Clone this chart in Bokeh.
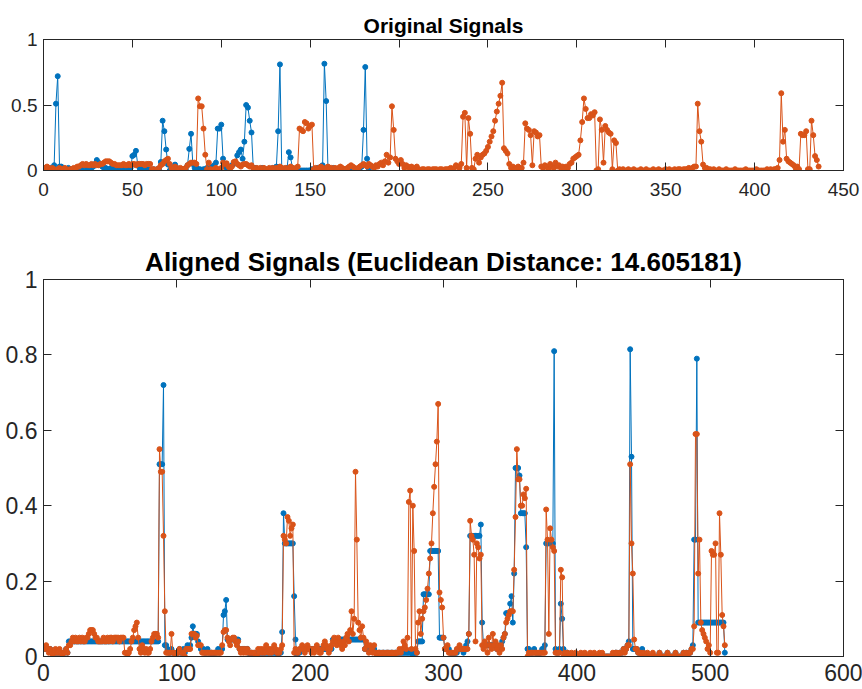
from bokeh.plotting import figure
from bokeh.layouts import column
from bokeh.models import LinearAxis, FixedTicker, NumeralTickFormatter, Range1d
from bokeh.embed import file_html
from bokeh.resources import INLINE

# ---------------- data ----------------
blue_signal = [
    0.02, 0.01, 0.01, 0.02, 0.01, 0.04, 0.51, 0.72, 0.03, 0.03,
    0.02, 0.01, 0.01, 0.02, 0.01, 0.01, 0.00, 0.01, 0.01, 0.02,
    0.01, 0.01, 0.02, 0.01, 0.02, 0.03, 0.02, 0.03, 0.05, 0.08,
    0.06, 0.04, 0.03, 0.02, 0.02, 0.01, 0.01, 0.02, 0.01, 0.01,
    0.01, 0.00, 0.01, 0.01, 0.01, 0.02, 0.01, 0.02, 0.02, 0.11,
    0.12, 0.15, 0.045, 0.02, 0.01, 0.00, 0.01, 0.00, 0.01, 0.00,
    0.00, 0.01, 0.00, 0.01, 0.01, 0.065, 0.38, 0.30, 0.16, 0.045,
    0.00, 0.01, 0.02, 0.045, 0.02, 0.01, 0.00, 0.01, 0.01, 0.01,
    0.04, 0.165, 0.28, 0.05, 0.02, 0.02, 0.01, 0.01, 0.00, 0.01,
    0.01, 0.02, 0.01, 0.02, 0.03, 0.04, 0.06, 0.32, 0.32, 0.35,
    0.09, 0.03, 0.02, 0.02, 0.03, 0.04, 0.05, 0.06, 0.115, 0.14,
    0.16, 0.09, 0.22, 0.50, 0.48, 0.38, 0.29, 0.02, 0.02, 0.01,
    0.01, 0.01, 0.02, 0.01, 0.01, 0.00, 0.01, 0.01, 0.02, 0.02,
    0.03, 0.30, 0.81, 0.02, 0.01, 0.01, 0.02, 0.14, 0.10, 0.02,
    0.01, 0.00, 0.00, 0.00, 0.00, 0.00, 0.00, 0.00, 0.00, 0.00,
    0.01, 0.00, 0.01, 0.02, 0.02, 0.03, 0.04, 0.815, 0.53, 0.02,
    0.01, 0.01, 0.02, 0.01, 0.00, 0.01, 0.00, 0.00, 0.01, 0.00,
    0.01, 0.00, 0.01, 0.00, 0.01, 0.00, 0.01, 0.02, 0.03, 0.31,
    0.79, 0.09, 0.01,
]

orange_signal = [
    0.02, 0.03, 0.02, 0.01, 0.02, 0.01, 0.00, 0.01, 0.02, 0.01,
    0.01, 0.02, 0.01, 0.00, 0.01, 0.01, 0.02, 0.01, 0.03, 0.03,
    0.04, 0.05, 0.04, 0.05, 0.04, 0.04, 0.05, 0.04, 0.05, 0.04,
    0.04, 0.05, 0.05, 0.06, 0.07, 0.07, 0.07, 0.06, 0.05, 0.05,
    0.04, 0.04, 0.04, 0.04, 0.05, 0.04, 0.04, 0.05, 0.04, 0.05,
    0.05, 0.04, 0.05, 0.05, 0.05, 0.05, 0.04, 0.05, 0.05, 0.05,
    0.01, 0.01, 0.00, 0.01, 0.02, 0.04, 0.05, 0.07, 0.08, 0.09,
    0.05, 0.02, 0.01, 0.03, 0.02, 0.01, 0.02, 0.01, 0.01, 0.02,
    0.04, 0.05, 0.06, 0.06, 0.06, 0.05, 0.55, 0.49, 0.49, 0.32,
    0.12, 0.01, 0.06, 0.01, 0.00, 0.01, 0.02, 0.01, 0.00, 0.02,
    0.06, 0.05, 0.055, 0.03, 0.01, 0.03, 0.065, 0.07, 0.05, 0.04,
    0.03, 0.045, 0.05, 0.05, 0.04, 0.03, 0.04, 0.02, 0.01, 0.02,
    0.01, 0.02, 0.01, 0.02, 0.01, 0.00, 0.02, 0.01, 0.02, 0.01,
    0.02, 0.01, 0.03, 0.02, 0.01, 0.02, 0.01, 0.02, 0.03, 0.02,
    0.01, 0.02, 0.03, 0.32, 0.31, 0.30, 0.37, 0.36, 0.32, 0.34,
    0.35, 0.01, 0.02, 0.01, 0.02, 0.03, 0.02, 0.01, 0.02, 0.03,
    0.02, 0.02, 0.01, 0.02, 0.01, 0.02, 0.03, 0.02, 0.01, 0.01,
    0.02, 0.03, 0.04, 0.03, 0.02, 0.01, 0.02, 0.03, 0.04, 0.05,
    0.04, 0.03, 0.05, 0.04, 0.03, 0.02, 0.04, 0.03, 0.05, 0.06,
    0.04, 0.07, 0.12, 0.06, 0.10, 0.49, 0.31, 0.09, 0.07, 0.05,
    0.08, 0.05, 0.02, 0.04, 0.03, 0.01, 0.03, 0.02, 0.01, 0.03,
    0.01, 0.00, 0.01, 0.01, 0.00, 0.01, 0.01, 0.00, 0.01, 0.01,
    0.01, 0.00, 0.01, 0.01, 0.00, 0.01, 0.01, 0.01, 0.02, 0.01,
    0.02, 0.04, 0.03, 0.02, 0.05, 0.41, 0.44, 0.02, 0.40, 0.28,
    0.02, 0.01, 0.09, 0.12, 0.06, 0.10, 0.12, 0.13, 0.15, 0.18,
    0.22, 0.26, 0.30, 0.38, 0.45, 0.51, 0.57, 0.67, 0.17, 0.15,
    0.13, 0.05, 0.02, 0.03, 0.01, 0.02, 0.03, 0.02, 0.02, 0.06,
    0.36, 0.32, 0.31, 0.27, 0.04, 0.30, 0.29, 0.26, 0.27, 0.03,
    0.02, 0.04, 0.03, 0.01, 0.05, 0.03, 0.02, 0.06, 0.03, 0.04,
    0.02, 0.03, 0.01, 0.03, 0.02, 0.05, 0.06, 0.09, 0.10, 0.11,
    0.12, 0.23, 0.37, 0.55, 0.47, 0.40, 0.40, 0.43, 0.42, 0.445,
    0.00, 0.01, 0.39, 0.31, 0.06, 0.34, 0.31, 0.29, 0.28, 0.01,
    0.23, 0.21, 0.00, 0.01, 0.00, 0.01, 0.00, 0.00, 0.01, 0.00,
    0.00, 0.01, 0.00, 0.00, 0.00, 0.01, 0.00, 0.00, 0.01, 0.00,
    0.00, 0.00, 0.01, 0.00, 0.00, 0.01, 0.00, 0.00, 0.00, 0.01,
    0.00, 0.01, 0.00, 0.00, 0.01, 0.00, 0.01, 0.01, 0.00, 0.01,
    0.01, 0.01, 0.02, 0.01, 0.02, 0.03, 0.03, 0.51, 0.30, 0.22,
    0.045, 0.02, 0.02, 0.01, 0.01, 0.00, 0.01, 0.00, 0.00, 0.01,
    0.00, 0.00, 0.00, 0.01, 0.00, 0.00, 0.00, 0.00, 0.01, 0.00,
    0.00, 0.00, 0.00, 0.00, 0.01, 0.00, 0.00, 0.00, 0.00, 0.00,
    0.01, 0.00, 0.00, 0.00, 0.00, 0.00, 0.01, 0.00, 0.01, 0.00,
    0.01, 0.01, 0.02, 0.08, 0.59, 0.22, 0.31, 0.09, 0.07, 0.06,
    0.05, 0.04, 0.02, 0.03, 0.01, 0.28, 0.27, 0.27, 0.30, 0.01,
    0.01, 0.38, 0.27, 0.11, 0.08, 0.03,
]

# points of the warping path:
# (aligned position, blue sample, orange sample), all 1-based.
# Between them the path is filled by dynamic time warping.
match_pos = [1, 22, 86, 87, 89, 90, 112, 137, 180, 181, 187, 188, 189, 234, 274,
             296, 297, 320, 328, 355, 362, 377, 383, 388, 440, 441, 488, 490,
             491, 510, 511]
match_blue = [1, 6, 6, 7, 7, 8, 30, 52, 67, 68, 68, 69, 70, 74, 76,
              83, 84, 98, 100, 114, 117, 132, 133, 138, 158, 159, 180, 181,
              182, 182, 183]
match_orange = [1, 22, 86, 87, 89, 90, 101, 108, 144, 145, 151, 152, 153, 196, 236,
                258, 259, 271, 279, 304, 310, 313, 319, 321, 368, 369, 414, 415,
                416, 435, 436]

top_title = "Original Signals"
bottom_title = "Aligned Signals (Euclidean Distance: 14.605181)"
top_xticks = [0, 50, 100, 150, 200, 250, 300, 350, 400, 450]
top_yticks = [0, 0.5, 1]
bottom_xticks = [0, 100, 200, 300, 400, 500, 600]
bottom_yticks = [0, 0.2, 0.4, 0.6, 0.8, 1]

BLUE = "#0072BD"
ORANGE = "#D95319"
AX = "#262626"
FONT = "Liberation Sans"


def dtw_fixed(a, b, ndiag):
    """DTW path from (0,0) to (n-1,m-1) using exactly ndiag diagonal steps."""
    n, m = len(a), len(b)
    INF = float("inf")
    C = [[[INF] * (ndiag + 1) for _ in range(m)] for _ in range(n)]
    for i in range(n):
        for j in range(m):
            c = abs(a[i] - b[j])
            if i == 0 and j == 0:
                C[0][0][0] = c
                continue
            row = C[i][j]
            for t in range(ndiag + 1):
                best = INF
                if i > 0 and j > 0 and t > 0:
                    best = C[i - 1][j - 1][t - 1]
                if i > 0 and C[i - 1][j][t] < best:
                    best = C[i - 1][j][t]
                if j > 0 and C[i][j - 1][t] < best:
                    best = C[i][j - 1][t]
                row[t] = c + best
    i, j, t = n - 1, m - 1, ndiag
    path = [(i, j)]
    while i > 0 or j > 0:
        cands = []
        if i > 0 and j > 0 and t > 0:
            cands.append((C[i - 1][j - 1][t - 1], 0, i - 1, j - 1, t - 1))
        if i > 0:
            cands.append((C[i - 1][j][t], 1, i - 1, j, t))
        if j > 0:
            cands.append((C[i][j - 1][t], 2, i, j - 1, t))
        cands.sort()
        _, _, i, j, t = cands[0]
        path.append((i, j))
    path.reverse()
    return path


def warp(a, b, mk, ma, mb):
    ix, iy = [], []
    for k in range(len(mk) - 1):
        a0, a1 = ma[k] - 1, ma[k + 1] - 1
        b0, b1 = mb[k] - 1, mb[k + 1] - 1
        steps = mk[k + 1] - mk[k]
        ndiag = (a1 - a0) + (b1 - b0) - steps
        seg = dtw_fixed(a[a0:a1 + 1], b[b0:b1 + 1], ndiag)
        if k > 0:
            seg = seg[1:]
        for (p, q) in seg:
            ix.append(a0 + p)
            iy.append(b0 + q)
    return ix, iy


def style(p, xticks, yticks, fs, standoff_x):
    p.xgrid.visible = False
    p.ygrid.visible = False
    p.outline_line_color = AX
    p.outline_line_width = 1
    p.background_fill_color = "white"
    p.border_fill_color = "white"
    p.add_layout(LinearAxis(), "right")
    p.add_layout(LinearAxis(), "above")
    for ax in p.xaxis:
        ax.ticker = FixedTicker(ticks=xticks)
        ax.major_label_standoff = standoff_x
    for ax in p.yaxis:
        ax.ticker = FixedTicker(ticks=yticks)
        ax.formatter = NumeralTickFormatter(format="0.[0]")
        ax.major_label_standoff = 6
    for ax in p.axis:
        ax.major_tick_in = 8
        ax.major_tick_out = 0
        ax.minor_tick_in = 0
        ax.minor_tick_out = 0
        ax.axis_line_color = AX
        ax.major_tick_line_color = AX
        ax.major_label_text_font = FONT
        ax.major_label_text_font_size = fs
        ax.major_label_text_color = AX
    for ax in p.right + p.above:
        if isinstance(ax, LinearAxis):
            ax.major_label_text_color = None
            ax.major_label_text_font_size = "1px"
            ax.major_label_standoff = 0


def set_title(p, text, fs, standoff):
    p.title.text = text
    p.title.align = "center"
    p.title.text_font = FONT
    p.title.text_font_size = fs
    p.title.text_font_style = "bold"
    p.title.text_color = "black"
    p.title.standoff = standoff


# ---------------- top: original signals ----------------
p1 = figure(width=862, height=210, output_backend="svg", toolbar_location=None,
            x_range=Range1d(0, 450), y_range=Range1d(0, 1),
            min_border_left=43, min_border_right=19, min_border_top=39, min_border_bottom=40)
set_title(p1, top_title, "21px", 5)
style(p1, top_xticks, top_yticks, "19px", 12)

xb = list(range(1, len(blue_signal) + 1))
xo = list(range(1, len(orange_signal) + 1))
p1.line(xb, blue_signal, line_color=BLUE, line_width=1)
p1.scatter(xb, blue_signal, size=5, color=BLUE)
p1.line(xo, orange_signal, line_color=ORANGE, line_width=1)
p1.scatter(xo, orange_signal, size=5, color=ORANGE)

# ---------------- bottom: aligned signals ----------------
ix, iy = warp(blue_signal, orange_signal, match_pos, match_blue, match_orange)
aligned_blue = [blue_signal[k] for k in ix]
aligned_orange = [orange_signal[k] for k in iy]
xa = list(range(1, len(ix) + 1))

p2 = figure(width=862, height=479, output_backend="svg", toolbar_location=None,
            x_range=Range1d(0, 600), y_range=Range1d(0, 1),
            min_border_left=43, min_border_right=19, min_border_top=69, min_border_bottom=33)
set_title(p2, bottom_title, "26px", 6)
style(p2, bottom_xticks, bottom_yticks, "23px", 7)

p2.line(xa, aligned_blue, line_color=BLUE, line_width=1)
p2.scatter(xa, aligned_blue, size=5, color=BLUE)
p2.line(xa, aligned_orange, line_color=ORANGE, line_width=1)
p2.scatter(xa, aligned_orange, size=5, color=ORANGE)

layout = column(p1, p2, spacing=0)
open("out.html", "w").write(file_html(layout, INLINE))
